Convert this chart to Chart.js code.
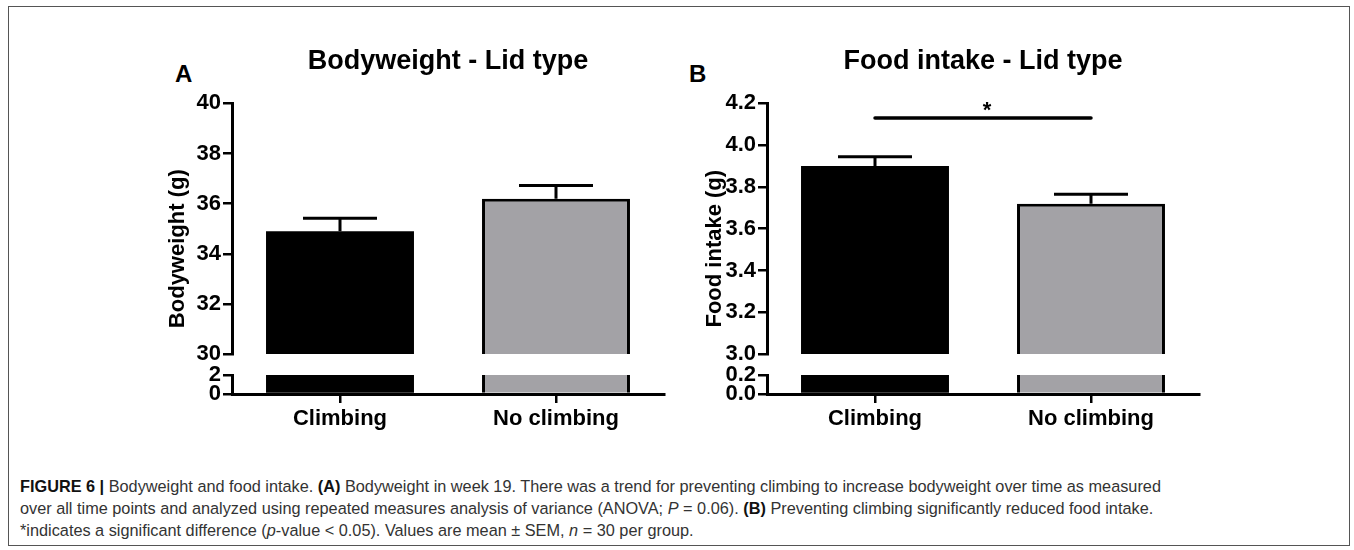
<!DOCTYPE html>
<html>
<head>
<meta charset="utf-8">
<script src="https://cdn.jsdelivr.net/npm/chart.js@4.4.0/dist/chart.umd.min.js"></script>
<style>
body { margin: 0; background: #fff; width: 1354px; height: 550px; position: relative; overflow: hidden; font-family: "Liberation Sans", Arial, sans-serif; }
#frame { position: absolute; left: 8px; top: 6px; width: 1340px; height: 538px; border: 1px solid #555; }
canvas { position: absolute; }
.letter { position: absolute; font-weight: bold; font-size: 24px; line-height: 24px; color: #000; }
#caption { position: absolute; left: 20px; top: 475px; font-family: "Liberation Sans Narrow", "Liberation Sans", Arial, sans-serif; font-size: 16.3px; line-height: 22px; color: #333; white-space: nowrap; }
#caption b { color: #111; }
</style>
</head>
<body>
<div id="frame"></div>
<div class="letter" style="left:175px;top:62px">A</div>
<div class="letter" style="left:689px;top:62px">B</div>
<canvas id="chartA" width="540" height="410" style="left:140px;top:30px"></canvas>
<canvas id="chartB" width="540" height="410" style="left:675px;top:30px"></canvas>
<div id="caption">
<div><b>FIGURE 6 |</b> Bodyweight and food intake. <b>(A)</b> Bodyweight in week 19. There was a trend for preventing climbing to increase bodyweight over time as measured</div>
<div>over all time points and analyzed using repeated measures analysis of variance (ANOVA; <i>P</i> = 0.06). <b>(B)</b> Preventing climbing significantly reduced food intake.</div>
<div>*indicates a significant difference (<i>p</i>-value &lt; 0.05). Values are mean ± SEM, <i>n</i> = 30 per group.</div>
</div>
<script>
// 数据
const categories = ['Climbing', 'No climbing'];
const barColors = ['#000000', '#a3a2a6'];

const bodyweightMean = [34.9, 36.2];
const bodyweightSem = [0.52, 0.52];
const bodyweightUpperTicks = [30, 32, 34, 36, 38, 40];
const bodyweightLowerTicks = [0, 2];

const foodMean = [3.90, 3.72];
const foodSem = [0.045, 0.045];
const foodUpperTicks = [3.0, 3.2, 3.4, 3.6, 3.8, 4.0, 4.2];
const foodLowerTicks = [0.0, 0.2];
const foodSigLevel = 4.13;

const boldFont = size => ({ family: '"Liberation Sans", Arial, sans-serif', size: size, weight: 'bold' });

// 断轴的一段
function axisPart(ticksArr, decimals, weight, stackWeight) {
    return {
        type: 'linear',
        position: 'left',
        stack: 'y',
        stackWeight: stackWeight,
        weight: weight,
        min: ticksArr[0],
        max: ticksArr[ticksArr.length - 1],
        afterBuildTicks: s => { s.ticks = ticksArr.map(v => ({ value: v })); },
        afterFit: s => { s.width = 44; },
        grid: { drawOnChartArea: false, drawTicks: true, tickLength: 9, color: '#000', lineWidth: 2.5 },
        border: { display: true, color: '#000', width: 3 },
        ticks: { font: boldFont(22), color: '#000', padding: 2, autoSkip: false, callback: v => Number(v).toFixed(decimals) }
    };
}

function makePanel(id, cfg) {
    const upperMin = cfg.upperTicks[0];
    const lowerMax = cfg.lowerTicks[cfg.lowerTicks.length - 1];

    // 误差线和显著性标记
    const errorBars = {
        id: 'errorBars',
        afterDatasetsDraw(chart) {
            const ctx = chart.ctx;
            const y = chart.scales.yTop;
            const bars = chart.getDatasetMeta(0).data;
            ctx.save();
            ctx.strokeStyle = '#000';
            ctx.lineWidth = 3;
            bars.forEach((bar, i) => {
                const y0 = y.getPixelForValue(cfg.mean[i]);
                const y1 = y.getPixelForValue(cfg.mean[i] + cfg.sem[i]);
                const half = bar.width / 4;
                ctx.beginPath();
                ctx.moveTo(bar.x, y0);
                ctx.lineTo(bar.x, y1);
                ctx.moveTo(bar.x - half, y1);
                ctx.lineTo(bar.x + half, y1);
                ctx.stroke();
            });
            if (cfg.sig !== undefined) {
                const ys = y.getPixelForValue(cfg.sig);
                ctx.lineCap = 'round';
                ctx.lineWidth = 3.5;
                ctx.beginPath();
                ctx.moveTo(bars[0].x, ys);
                ctx.lineTo(bars[1].x, ys);
                ctx.stroke();
                ctx.fillStyle = '#000';
                ctx.font = 'bold 22px "Liberation Sans", Arial, sans-serif';
                ctx.textAlign = 'center';
                ctx.textBaseline = 'alphabetic';
                ctx.fillText('*', (bars[0].x + bars[1].x) / 2 + 4, ys - 1);
            }
            ctx.restore();
        }
    };

    // 黑色柱子不需要边框
    const edges = sides => barColors.map(c => (c === '#000000' ? 0 : sides));

    const barStyle = {
        backgroundColor: barColors,
        borderColor: '#000',
        borderSkipped: false,
        grouped: false,
        barPercentage: 0.685,
        categoryPercentage: 1
    };

    return new Chart(document.getElementById(id), {
        type: 'bar',
        data: {
            labels: categories,
            datasets: [
                Object.assign({
                    data: cfg.mean.map(v => [upperMin, v]),
                    yAxisID: 'yTop',
                    borderWidth: edges({ left: 3, right: 3, top: 3, bottom: 0 })
                }, barStyle),
                Object.assign({
                    data: cfg.mean.map(v => [cfg.lowerTicks[0], Math.min(v, lowerMax)]),
                    yAxisID: 'yBot',
                    borderWidth: edges({ left: 3, right: 3, top: 0, bottom: 0 })
                }, barStyle)
            ]
        },
        options: {
            responsive: false,
            animation: false,
            events: [],
            layout: { padding: { left: 0, right: 16, top: 0, bottom: 6 } },
            plugins: {
                legend: { display: false },
                tooltip: { enabled: false },
                title: {
                    display: true,
                    text: cfg.title,
                    fullSize: false,
                    color: '#000',
                    font: boldFont(27),
                    padding: { top: 15, bottom: 26 }
                }
            },
            scales: {
                x: {
                    type: 'category',
                    offset: true,
                    grid: { drawOnChartArea: false, drawTicks: true, tickLength: 9, offset: false, color: '#000', lineWidth: 2.5 },
                    border: { display: true, color: '#000', width: 3 },
                    ticks: { font: boldFont(22), color: '#000', padding: 3, maxRotation: 0 },
                    afterFit: s => { s.height = 40; }
                },
                yTitle: {
                    type: 'linear',
                    position: 'left',
                    weight: 10,
                    ticks: { display: false },
                    grid: { display: false },
                    border: { display: false },
                    title: { display: true, text: cfg.yLabel, color: '#000', font: boldFont(22), padding: { top: cfg.titlePad, bottom: 0 } },
                    afterFit: s => { s.width = 48; }
                },
                yTop: axisPart(cfg.upperTicks, cfg.decimals, 3, 251),
                yGap: { type: 'linear', position: 'left', stack: 'y', stackWeight: 21, weight: 2, display: false },
                yBot: axisPart(cfg.lowerTicks, cfg.decimals, 1, 19)
            }
        },
        plugins: [errorBars]
    });
}

makePanel('chartA', {
    title: 'Bodyweight - Lid type',
    yLabel: 'Bodyweight (g)',
    mean: bodyweightMean,
    sem: bodyweightSem,
    upperTicks: bodyweightUpperTicks,
    lowerTicks: bodyweightLowerTicks,
    decimals: 0,
    titlePad: 25
});

makePanel('chartB', {
    title: 'Food intake - Lid type',
    yLabel: 'Food intake (g)',
    mean: foodMean,
    sem: foodSem,
    upperTicks: foodUpperTicks,
    lowerTicks: foodLowerTicks,
    decimals: 1,
    sig: foodSigLevel,
    titlePad: 27
});
</script>
</body>
</html>
